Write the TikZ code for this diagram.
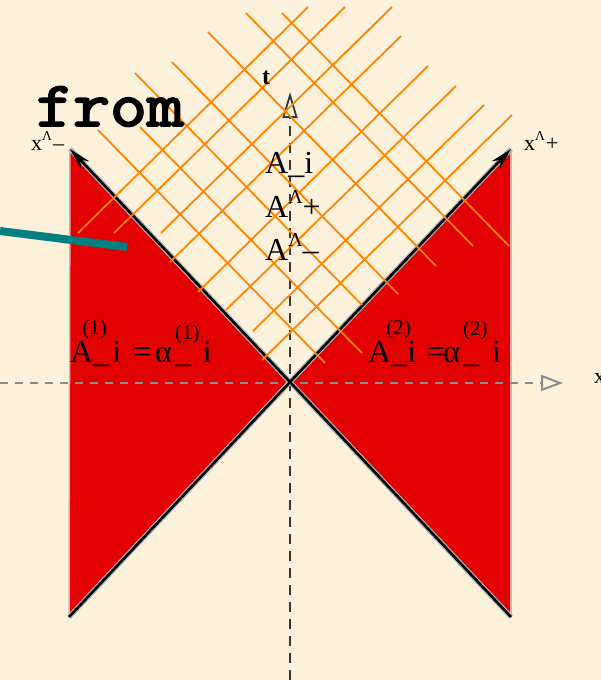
\documentclass[tikz,border=0pt]{standalone}
\usepackage{fontspec}
\setmainfont{Liberation Serif}
\newfontfamily\monofont{Latin Modern Mono}[FakeBold=3]
\usetikzlibrary{arrows.meta}
\definecolor{bgc}{RGB}{252,242,219}
\definecolor{redfill}{RGB}{226,0,0}
\definecolor{gridc}{RGB}{255,132,0}
\definecolor{tealc}{RGB}{0,128,128}
\definecolor{pinkedge}{RGB}{232,170,170}
\definecolor{haxisc}{RGB}{140,140,140}
\definecolor{vaxisc}{RGB}{55,55,55}
\newcommand\mycaret{\raisebox{0.42em}{\scalebox{0.62}{Λ}}}
\newcommand\supnum[2]{\rlap{\kern#1pt\raisebox{#2pt}{\fontsize{21}{22}\selectfont(1)}}}
\newcommand\supnumb[2]{\rlap{\kern#1pt\raisebox{#2pt}{\fontsize{21}{22}\selectfont(2)}}}
\begin{document}
\begin{tikzpicture}[x=1pt,y=-1pt,
  lbl/.style={inner sep=0pt, anchor=base west, font=\fontsize{32}{34}\selectfont},
  xlbl/.style={inner sep=0pt, anchor=base west, font=\fontsize{22}{24}\selectfont},
  gridline/.style={draw=gridc, line width=1.8pt},
  coneedge/.style={draw=black, line width=2.6pt},
  coneshadow/.style={draw=black!30, line width=5pt},
  haxis/.style={draw=haxisc, line width=2pt, dash pattern=on 8pt off 7pt},
  vaxis/.style={draw=vaxisc, line width=2.5pt, dash pattern=on 10pt off 7pt}]
\fill[bgc] (0,0) rectangle (601,680);
\useasboundingbox (0,0) rectangle (601,680);
% key points
\coordinate (O) at (290,382);
\coordinate (TL) at (70,149);
\coordinate (BL) at (69,617);
\coordinate (TR) at (511,149);
\coordinate (BR) at (511,617);
\coordinate (HL) at (0,383);
\coordinate (HR) at (563,383);
\coordinate (VT) at (290,92);
\coordinate (VB) at (290,680);
\coordinate (T1) at (0,231);
\coordinate (T2) at (127,247);
% red wedges
\fill[redfill] (TL) -- (O) -- (BL) -- cycle;
\fill[redfill] (TR) -- (O) -- (BR) -- cycle;
\draw[pinkedge, line width=1.5pt] (TL) -- (BL);
\draw[pinkedge, line width=1.5pt] (TR) -- (BR);
% axes
\draw[haxis, -{Triangle[open, length=22pt, width=16pt, line width=2pt]}] (HL) -- (HR);
\draw[vaxis, -{Triangle[open, length=26pt, width=15pt, line width=1.8pt]}] (VB) -- (VT);
% cone edges
\draw[coneshadow, shift={(1,1)}] (TL) -- (O) -- (BL);
\draw[coneshadow, shift={(1,1)}] (TR) -- (O) -- (BR);
\draw[coneedge, -{Stealth[length=22pt, width=11pt]}] (O) -- (TL);
\draw[coneedge] (O) -- (BL);
\draw[coneedge, -{Stealth[length=22pt, width=11pt]}] (O) -- (TR);
\draw[coneedge] (O) -- (BR);
% orange grid: lines rising to the right
\foreach \ax/\ay/\bx/\by in {78/233/308/7, 114/233/345/7, 161/233/392/7, 170/262/401/36,
  198/292/428/66, 226/310/456/86, 253/331/484/105, 262/360/512/115}
  \draw[gridline] (\ax,\ay) -- (\bx,\by);
% orange grid: lines falling to the right
\foreach \ax/\ay/\bx/\by in {282/13/509/246, 246/13/473/246, 208/32/436/266, 172/62/398/294,
  135/73/362/305, 140/127/362/353, 98/130/325/363}
  \draw[gridline] (\ax,\ay) -- (\bx,\by);
% teal stroke
\draw[tealc, line width=8pt] (T1) -- (T2);
% labels
\node[inner sep=0pt, anchor=base west, font=\monofont\fontsize{64}{64}\selectfont] (from) at (36,126) {\scalebox{1.12}[1]{from}};
\node[xlbl, font=\fontsize{24}{26}\selectfont\bfseries] (tlab) at (262,84) {t};
\node[xlbl] (xminus) at (31,150) {x\mycaret\kern1pt–};
\node[xlbl] (xplus) at (524,150) {x\mycaret\kern1pt+};
\node[xlbl] (xaxis) at (594,383) {x};
\node[lbl] (Ai) at (265,173) {A\_i};
\node[lbl] (Aplus) at (265,217) {A\mycaret+};
\node[lbl] (Aminus) at (265,260) {A\mycaret–};
\node[lbl] (eqone) at (70,362) {A\supnum{-11}{28}\_\kern3pt i\kern12pt=\kern4pt α\kern3pt\supnum{0}{23}\_\kern12pt i};
\node[lbl] (eqtwo) at (368,362) {A\supnumb{-5}{28}\_i\kern11pt=\kern-2pt α\kern3pt\supnumb{0}{27}\_\kern13pt i};
\end{tikzpicture}
\end{document}
